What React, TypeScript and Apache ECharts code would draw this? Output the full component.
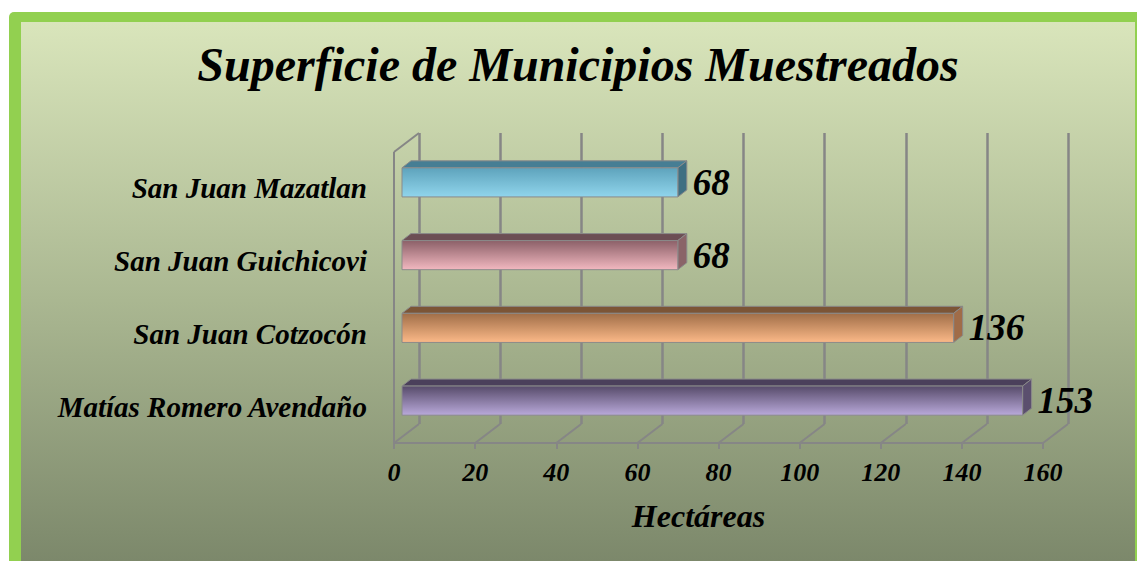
import React, { useEffect, useRef } from "react";
import * as echarts from "echarts";

const categories = ["San Juan Mazatlan", "San Juan Guichicovi", "San Juan Cotzocón", "Matías Romero Avendaño"];
const values = [68, 68, 136, 153];
const xTicks = [0, 20, 40, 60, 80, 100, 120, 140, 160];
const frontTop = ["#5ea3bc", "#8c6068", "#a06e48", "#574b6a"];
const frontBottom = ["#90d5ec", "#f2b8c0", "#fbb988", "#b9a9da"];
const topFace = ["#467e94", "#6c4e54", "#7c5536", "#4b405b"];
const sideFace = ["#3f6f82", "#8a6468", "#a06c48", "#5b4f6e"];

const FONT = '"Liberation Serif", "Times New Roman", serif';
const DX = 25; // depth offset of the floor / back wall
const DY = 19;
const GRID_COLOR = "#868686";

export default function App() {
  const ref = useRef<HTMLDivElement>(null);
  useEffect(() => {
    const chart = echarts.init(ref.current!, null, { renderer: "svg" });
    const option: any = {
      animation: false,
      backgroundColor: "#ffffff",
      title: {
        text: "Superficie de Municipios Muestreados",
        left: 578,
        textAlign: "center",
        top: 40,
        padding: 0,
        textStyle: { fontFamily: FONT, fontStyle: "italic", fontWeight: "bold", fontSize: 48, color: "#000" },
      },
      graphic: [
        { type: "rect", z: -10, shape: { x: 9, y: 12, width: 1140, height: 560, r: 5 }, style: { fill: "#92d050" } },
        {
          type: "rect",
          z: -9,
          shape: { x: 21, y: 22, width: 1114, height: 545 },
          style: {
            fill: new echarts.graphic.LinearGradient(0, 0, 0, 1, [
              { offset: 0, color: "#d9e5bb" },
              { offset: 0.5, color: "#abb892" },
              { offset: 1, color: "#7b876a" },
            ]),
          },
        },
      ],
      grid: [
        { left: 394, top: 152, width: 649, height: 291 },
        { left: 394 + DX, top: 152 - DY, width: 649, height: 291 },
      ],
      xAxis: [
        {
          gridIndex: 0,
          type: "value",
          min: 0,
          max: 160,
          interval: 20,
          axisLine: { show: true, lineStyle: { color: GRID_COLOR, width: 2 } },
          axisTick: { show: true, length: 6, lineStyle: { color: GRID_COLOR, width: 2 } },
          splitLine: { show: false },
          axisLabel: { margin: 16, fontFamily: FONT, fontStyle: "italic", fontWeight: "bold", fontSize: 26, color: "#000" },
          name: "Hectáreas",
          nameLocation: "middle",
          nameGap: 57,
          nameTextStyle: { fontFamily: FONT, fontStyle: "italic", fontWeight: "bold", fontSize: 32, color: "#000", padding: [0, 40, 0, 0] },
        },
        {
          gridIndex: 1,
          type: "value",
          min: 0,
          max: 160,
          interval: 20,
          axisLine: { show: false },
          axisTick: { show: false },
          axisLabel: { show: false },
          splitLine: { show: true, lineStyle: { color: GRID_COLOR, width: 2.5 } },
        },
      ],
      yAxis: [
        {
          gridIndex: 0,
          type: "category",
          inverse: true,
          data: categories,
          axisLine: { show: false },
          axisTick: { show: false },
          axisLabel: { margin: 27, fontFamily: FONT, fontStyle: "italic", fontWeight: "bold", fontSize: 29, color: "#000" },
        },
        {
          gridIndex: 1,
          type: "category",
          inverse: true,
          data: categories,
          show: false,
        },
      ],
      series: [
        {
          type: "custom",
          name: "frame",
          xAxisIndex: 0,
          yAxisIndex: 0,
          z: 1,
          silent: true,
          data: xTicks.map((t) => [t, 0]),
          renderItem: (params: any, api: any) => {
            const cs = params.coordSys;
            const x = api.coord([api.value(0), 0])[0];
            const floorY = cs.y + cs.height;
            const ls = { stroke: GRID_COLOR, lineWidth: 2 };
            const children: any[] = [
              { type: "line", shape: { x1: x, y1: floorY, x2: x + DX, y2: floorY - DY }, style: ls },
            ];
            if (params.dataIndex === 0) {
              children.push({ type: "line", shape: { x1: x, y1: floorY, x2: x, y2: cs.y }, style: ls });
              children.push({ type: "line", shape: { x1: x, y1: cs.y, x2: x + DX, y2: cs.y - DY }, style: ls });
            }
            return { type: "group", children };
          },
        },
        {
          type: "custom",
          name: "Hectáreas",
          xAxisIndex: 0,
          yAxisIndex: 0,
          z: 3,
          data: values.map((v, i) => [v, i]),
          renderItem: (params: any, api: any) => {
            const v = api.value(0);
            const c = api.value(1);
            const i = params.dataIndex;
            const p0 = api.coord([0, c]);
            const p1 = api.coord([v, c]);
            const band = api.size([0, 1])[1];
            const h = band * 0.4;
            const ox = 8, oy = 6, dx = 9, dy = 7;
            const x0 = p0[0] + ox;
            const x1 = p1[0] + ox;
            const yc = p0[1] - oy;
            const yT = yc - h / 2;
            const yB = yc + h / 2;
            const edge = { stroke: "#8a8a8a", lineWidth: 1 };
            return {
              type: "group",
              children: [
                {
                  type: "polygon",
                  shape: { points: [[x0, yT], [x1, yT], [x1 + dx, yT - dy], [x0 + dx, yT - dy]] },
                  style: { fill: topFace[i], ...edge },
                },
                {
                  type: "polygon",
                  shape: { points: [[x1, yT], [x1 + dx, yT - dy], [x1 + dx, yB - dy], [x1, yB]] },
                  style: { fill: sideFace[i], ...edge },
                },
                {
                  type: "rect",
                  shape: { x: x0, y: yT, width: x1 - x0, height: h },
                  style: {
                    fill: new echarts.graphic.LinearGradient(0, 0, 0, 1, [
                      { offset: 0, color: frontTop[i] },
                      { offset: 1, color: frontBottom[i] },
                    ]),
                    ...edge,
                  },
                },
                {
                  type: "text",
                  style: {
                    text: String(v),
                    x: x1 + dx + 6,
                    y: yc,
                    align: "left",
                    verticalAlign: "middle",
                    fontFamily: FONT,
                    fontStyle: "italic",
                    fontWeight: "bold",
                    fontSize: 37,
                    fill: "#000",
                  },
                },
              ],
            };
          },
        },
      ],
    };
    chart.setOption(option);
    return () => chart.dispose();
  }, []);
  return <div ref={ref} style={{ position: "fixed", left: 0, top: 0, width: 1137, height: 561 }} />;
}
